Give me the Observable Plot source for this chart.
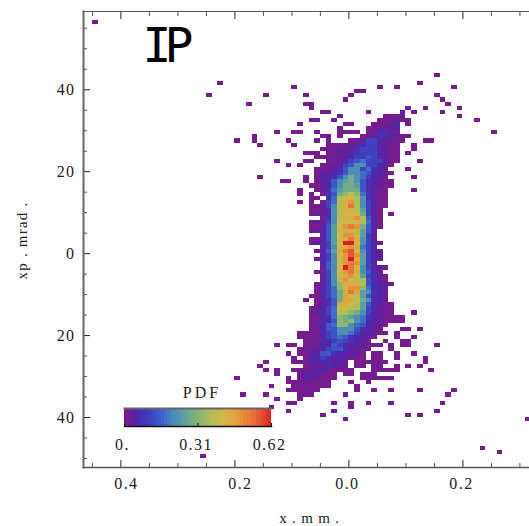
<!DOCTYPE html>
<html>
<head>
<meta charset="utf-8">
<script src="https://cdn.jsdelivr.net/npm/d3@7"></script>
<script src="https://cdn.jsdelivr.net/npm/@observablehq/plot@0.6"></script>
<style>
html,body{margin:0;padding:0;background:#fff;}
#wrap{position:relative;width:529px;height:526px;overflow:hidden;}
#wrap svg{display:block;background:transparent;}
#bar{position:absolute;left:100px;top:380px;}
.ls1 text{letter-spacing:1.4px;}
</style>
</head>
<body>
<div id="wrap" class="ls1"><div id="main"></div><div id="bar"></div></div>
<script>
// PDF levels; a character in the cell runs stands for one of these
const levelKeys   = ["1","2","3","4","5","6","7","8","9","a","b","c","d","e","f","g","h","i"];
const levelValues = [0.01,0.035,0.055,0.075,0.105,0.14,0.175,0.215,0.25,0.285,0.325,0.37,0.41,0.45,0.49,0.53,0.575,0.62];
// colour ramp
const rampValues = [0,0.02,0.05,0.08,0.12,0.16,0.2,0.25,0.31,0.37,0.42,0.47,0.52,0.57,0.62];
const rampColors = ["#7a1c8a","#701d92","#5424a4","#4530b4","#3e4ac4","#3f60cb","#4a86bc","#5ba0a0","#84b576","#b0bf55","#d3b646","#e2a23e","#e88138","#e45a30","#d92121"];
// ticks
const xMajor = [-0.4,-0.2,0,0.2];
const xMinor = [-0.45,-0.35,-0.3,-0.25,-0.15,-0.1,-0.05,0.05,0.1,0.15,0.25,0.3];
const yMajor = [-40,-20,0,20,40];
const yMinor = [-50,-45,-35,-30,-25,-15,-10,-5,5,10,15,25,30,35,45,50,55];
const barTicks = [0,0.31,0.62];
const barLabels = ["0.","0.31","0.62"];
// histogram: [xp bin (mrad), first x bin (0.01 mm), levels of consecutive bins]
const cellRuns = [
[56,-45,"1"],[43,15,"1"],[41,-23,"1"],[41,12,"1"],
[40,-10,"1"],[40,5,"1"],[40,8,"1"],[40,18,"1"],
[39,1,"11"],
[38,-25,"1"],[38,-15,"1"],[38,-8,"1"],[38,0,"1"],[38,15,"1"],
[37,-1,"1"],[37,16,"1"],
[36,-18,"1"],[36,-8,"11"],[36,17,"1"],
[35,-7,"1"],[35,10,"1"],[35,13,"1"],[35,19,"1"],
[34,-5,"11"],[34,3,"1"],[34,9,"2"],[34,11,"1"],[34,16,"1"],
[33,-2,"1"],[33,6,"1112"],[33,19,"1"],
[32,-7,"11"],[32,-3,"1"],[32,5,"111211"],[32,22,"1"],
[31,-9,"1"],[31,-1,"11"],[31,4,"11123"],[31,10,"1"],
[30,-2,"1"],[30,3,"112223"],
[29,-13,"1"],[29,-10,"11"],[29,-6,"1"],[29,-2,"1111"],[29,3,"114421"],[29,25,"1"],
[28,-17,"1"],[28,-5,"11"],[28,-2,"1"],[28,2,"113442211"],
[27,-20,"1"],[27,-17,"1"],[27,-11,"1"],[27,-6,"1"],[27,-4,"1"],[27,0,"1125532211"],[27,13,"11"],
[26,-16,"1"],[26,-10,"1"],[26,-4,"1111234553211"],[26,11,"1"],
[25,-5,"11222245553211"],[25,11,"1"],
[24,-8,"111"],[24,-4,"1122345553211"],[24,10,"1"],
[23,-6,"111212355653211"],
[22,-13,"1"],[22,-8,"11"],[22,-4,"1123567555311"],[22,12,"1"],
[21,-11,"1"],[21,-9,"1"],[21,-5,"1123568855321"],
[20,-6,"1122368857431"],[20,10,"1"],
[19,-6,"12234688764321"],
[18,-16,"1"],[18,-8,"1"],[18,-6,"133468a875321"],[18,11,"1"],
[17,-12,"11"],[17,-8,"1"],[17,-6,"123689a8643211"],
[16,-7,"112368aa9643211"],
[15,-9,"1"],[15,-6,"12479aaa64311"],[15,11,"1"],
[14,-9,"1"],[14,-7,"1"],[14,-5,"146abcb74311"],
[13,-7,"11"],[13,-4,"47cddc84311"],
[12,-9,"1"],[12,-7,"1"],[12,-5,"157cefc85311"],
[11,-7,"11258cegc85311"],
[10,-7,"11238ceec9521"],
[9,-7,"12248cddda531"],[9,7,"1"],
[8,-5,"148ceefc631"],
[7,-7,"12258ddddc731"],
[6,-7,"11269dfgfa631"],
[5,-7,"12369deec963"],
[4,-5,"269dffd953"],
[3,-7,"11369dege852"],
[2,-7,"12359diid8531"],
[1,-5,"258defe753"],
[0,-6,"1369eghd8532"],
[-1,-5,"358dfhf9532"],
[-2,-6,"1358dfie9532"],
[-3,-5,"368dfgf953"],
[-4,-5,"268digd85321"],
[-5,-6,"1158dfge8632"],
[-6,-5,"358defd95421"],
[-7,-5,"258cfdcc6421"],
[-8,-6,"1258beeec64321"],
[-9,-6,"1357bdffb7432"],
[-10,-6,"1357aege98432"],
[-11,-7,"11357aedc96431"],
[-12,-8,"1"],[-12,-6,"1346aeeda8432"],
[-13,-6,"1246eedc963211"],
[-14,-7,"12357cdcc953221"],
[-15,-7,"12357ccba853211"],[-15,11,"1"],
[-16,-7,"11347ba9874321111"],
[-17,-7,"11336bab874321111"],
[-18,-7,"12367bb8763221"],
[-19,-7,"1136688864321"],[-19,9,"11"],[-19,12,"1"],
[-20,-9,"1111356887533211"],[-20,8,"1"],
[-21,-9,"11113567643321"],[-21,8,"1"],[-21,11,"1"],
[-22,-8,"112335654321"],[-22,6,"1"],[-22,9,"11"],
[-23,-13,"1"],[-23,-11,"11"],[-23,-8,"11133653232111"],[-23,7,"1"],[-23,9,"11"],[-23,15,"1"],
[-24,-9,"1122356643221"],[-24,7,"1"],
[-25,-11,"1"],[-25,-9,"112366433221"],[-25,4,"11"],[-25,8,"1"],[-25,11,"1"],
[-26,-10,"1"],[-26,-8,"13354332211"],[-26,4,"11"],[-26,8,"1"],[-26,13,"1"],
[-27,-15,"1"],[-27,-10,"1112333232"],[-27,1,"111111"],[-27,13,"1"],
[-28,-16,"1"],[-28,-8,"12224321"],[-28,1,"11"],[-28,4,"11"],[-28,8,"1"],[-28,10,"1"],[-28,12,"1"],
[-29,-15,"1"],[-29,-13,"1"],[-29,-10,"1112332111"],[-29,0,"1"],[-29,4,"11111"],[-29,14,"1"],
[-30,-13,"1"],[-30,-9,"1322111"],[-30,-1,"1"],[-30,0,"1"],[-30,2,"111"],
[-31,-20,"1"],[-31,-11,"1"],[-31,-9,"122211"],[-31,-3,"1"],[-31,2,"111111"],
[-32,-11,"1"],[-32,-10,"1121111"],[-32,0,"1"],[-32,3,"1"],
[-33,-14,"1"],[-33,-10,"1111111"],[-33,1,"1"],
[-34,-11,"11111"],[-34,-6,"1"],[-34,1,"1"],[-34,4,"1"],[-34,7,"1"],[-34,12,"1"],[-34,18,"1"],
[-35,-19,"1"],[-35,-15,"1"],[-35,-9,"111"],[-35,-1,"1"],[-35,17,"1"],
[-36,-13,"1"],[-36,-9,"1"],
[-37,-11,"11"],[-37,-3,"1"],[-37,0,"1"],[-37,3,"1"],[-37,7,"1"],[-37,16,"1"],
[-38,-14,"1"],[-38,0,"1"],
[-39,-11,"1"],[-39,-3,"1"],[-39,15,"1"],
[-40,-5,"1"],[-40,10,"1"],[-40,12,"1"],
[-41,-1,"1"],[-41,31,"1"],
[-48,23,"1"],[-49,26,"1"],[-50,-26,"1"]
];
const cells = cellRuns.flatMap(([m, k, levels]) =>
  Array.from(levels, (c, i) => ({x: (k + i) / 100, y: m, pdf: levelValues[levelKeys.indexOf(c)]})));

const colorScale = {type: "linear", domain: rampValues, range: rampColors, clamp: true};
const serif = "'Liberation Serif', serif";
const labelStyle = {fontFamily: serif, fontSize: 16, fill: "#222", stroke: "none"};

const chart = Plot.plot({
  width: 529, height: 526,
  marginLeft: 83, marginRight: 0, marginTop: 11, marginBottom: 59,
  x: {domain: [-0.4656, 0.3168], axis: null},
  y: {domain: [-52.2, 59.1], axis: null},
  color: colorScale,
  style: {background: "transparent", overflow: "visible"},
  marks: [
    Plot.rect(cells, {x1: "x", x2: d => d.x + 0.01, y1: "y", y2: d => d.y + 1, fill: "pdf", shapeRendering: "crispEdges"}),
    Plot.axisX({anchor: "bottom", ticks: xMajor, tickSize: -7, label: null, fill: "none", stroke: "#222"}),
    Plot.axisX({anchor: "bottom", ticks: xMinor, tickSize: -4, label: null, fill: "none", stroke: "#555"}),
    Plot.axisX({anchor: "top", ticks: xMajor, tickSize: -7, label: null, fill: "none", stroke: "#222"}),
    Plot.axisX({anchor: "top", ticks: xMinor, tickSize: -4, label: null, fill: "none", stroke: "#555"}),
    Plot.axisY({anchor: "left", ticks: yMajor, tickSize: -7, label: null, fill: "none", stroke: "#222"}),
    Plot.axisY({anchor: "left", ticks: yMinor, tickSize: -4, label: null, fill: "none", stroke: "#555"}),
    Plot.frame({anchor: "left", stroke: "#666", strokeWidth: 2}),
    Plot.frame({anchor: "bottom", stroke: "#555", strokeWidth: 1.5}),
    Plot.frame({anchor: "top", stroke: "#555", strokeWidth: 1.2}),
    Plot.text(xMajor.filter(v => v < 0), {x: d => d, text: d => Math.abs(d).toFixed(1), frameAnchor: "bottom", dy: 21, dx: 5.5, ...labelStyle}),
    Plot.text(xMajor.filter(v => v >= 0), {x: d => d, text: d => Math.abs(d).toFixed(1), frameAnchor: "bottom", dy: 21, dx: -1.5, ...labelStyle}),
    Plot.text(yMajor, {y: d => d, text: d => String(Math.abs(d)), frameAnchor: "left", dx: -8, textAnchor: "end", ...labelStyle}),
    Plot.text(["xp . mrad ."], {frameAnchor: "left", dx: -61, dy: 1, textAnchor: "middle", rotate: -90, ...labelStyle, fontSize: 15, className: "ylabel"}),
    Plot.text(["x . m m ."], {frameAnchor: "bottom", dx: 3, dy: 55, ...labelStyle, fontSize: 15, className: "xlabel"}),
    Plot.text(["IP"], {frameAnchor: "top-left", dx: 59, dy: 16, lineAnchor: "top", textAnchor: "start", fontFamily: "'DejaVu Sans Mono', monospace", fontSize: 48, fill: "#000", stroke: "none", className: "ipmark"})
  ]
});
document.getElementById("main").appendChild(chart);
chart.querySelectorAll(".ipmark text").forEach(t => t.style.letterSpacing = "-7px");
chart.querySelectorAll(".xlabel text").forEach(t => t.style.letterSpacing = "0.8px");
chart.querySelectorAll(".ylabel text").forEach(t => t.style.letterSpacing = "1.2px");

const barStep = 0.62 / 48;
const bar = Plot.plot({
  width: 185, height: 75,
  marginLeft: 24, marginRight: 14, marginTop: 28, marginBottom: 29,
  x: {domain: [0, 0.62], axis: null},
  y: {axis: null},
  color: colorScale,
  style: {background: "transparent", overflow: "visible"},
  marks: [
    Plot.rect(d3.range(48).map(i => i * barStep), {x1: d => d, x2: d => d + barStep, fill: d => d + barStep / 2, shapeRendering: "crispEdges"}),
    Plot.axisX({anchor: "bottom", ticks: barTicks, tickSize: -3, label: null, fill: "none", stroke: "#111"}),
    Plot.frame({anchor: "top", stroke: "#666", strokeWidth: 2}),
    Plot.frame({anchor: "bottom", stroke: "#111", strokeWidth: 1.5}),
    Plot.text(barTicks, {x: d => d, text: (d, i) => barLabels[i], frameAnchor: "bottom", dy: 23, dx: -2, ...labelStyle}),
    Plot.text(["PDF"], {frameAnchor: "top", dx: 4, dy: -22, ...labelStyle, className: "pdfmark"})
  ]
});
document.getElementById("bar").appendChild(bar);
bar.querySelectorAll(".pdfmark text").forEach(t => t.style.letterSpacing = "3px");
</script>
</body>
</html>
